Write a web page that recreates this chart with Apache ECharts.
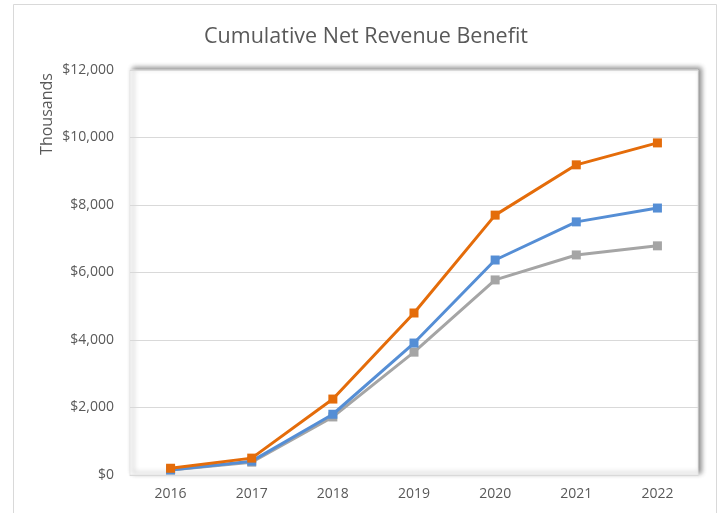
<!DOCTYPE html>
<html>
<head>
<meta charset="utf-8">
<script src="https://cdn.jsdelivr.net/npm/echarts@6/dist/echarts.min.js"></script>
<style>html,body{margin:0;padding:0;background:#fff;}#c{width:721px;height:513px;}</style>
</head>
<body>
<div id="c"></div>
<script>
var categories = ['2016','2017','2018','2019','2020','2021','2022'];
var seriesGray = [150, 380, 1720, 3640, 5780, 6520, 6790];
var seriesBlue = [150, 410, 1800, 3910, 6370, 7500, 7910];
var seriesOrange = [200, 500, 2250, 4800, 7700, 9190, 9840];
var yTicks = {min: 0, max: 12000, interval: 2000};

var chart = echarts.init(document.getElementById('c'));
var font = '"Open Sans", sans-serif';
function mk(name, data, color, z) {
  return {
    name: name, type: 'line', data: data, z: z,
    symbol: 'rect', symbolSize: 9,
    lineStyle: {color: color, width: 3},
    itemStyle: {color: color},
    emphasis: {disabled: true}
  };
}
chart.setOption({
  animation: false,
  backgroundColor: '#fff',
  title: {
    text: 'Cumulative Net Revenue Benefit',
    left: 361, top: 21, textAlign: 'center',
    textStyle: {fontFamily: font, fontSize: 21.5, fontWeight: 'normal', color: '#595959'}
  },
  graphic: [
    {type: 'rect', shape: {x: 13.5, y: 4.5, width: 703, height: 530}, style: {fill: 'none', stroke: '#d9d9d9', lineWidth: 1}, z: -10},
    {type: 'text', x: 47, y: 114, rotation: Math.PI / 2,
     style: {text: 'Thousands', font: '16px "Open Sans", sans-serif', fill: '#595959', align: 'center', verticalAlign: 'middle'}}
  ],
  grid: {
    left: 130, top: 70, right: 23, bottom: 38,
    show: true, backgroundColor: '#fff', borderColor: '#e6e6e6', borderWidth: 1,
    shadowColor: 'rgba(0,0,0,0.45)', shadowBlur: 5, shadowOffsetX: 3, shadowOffsetY: -2
  },
  xAxis: {
    type: 'category', data: categories, boundaryGap: true,
    axisLine: {show: true, lineStyle: {color: '#d9d9d9'}},
    axisTick: {show: false},
    axisLabel: {fontFamily: font, fontSize: 14, color: '#595959', margin: 12}
  },
  yAxis: {
    type: 'value', min: yTicks.min, max: yTicks.max, interval: yTicks.interval,
    axisLine: {show: false}, axisTick: {show: false},
    splitLine: {lineStyle: {color: '#d9d9d9'}},
    axisLabel: {fontFamily: font, fontSize: 14, color: '#595959', margin: 16,
      formatter: function (v) { return '$' + v.toLocaleString('en-US'); }}
  },
  series: [
    mk('Low', seriesGray, '#A5A5A5', 2),
    mk('Mid', seriesBlue, '#558ED5', 3),
    mk('High', seriesOrange, '#E46C0A', 4)
  ]
});
</script>
</body>
</html>
